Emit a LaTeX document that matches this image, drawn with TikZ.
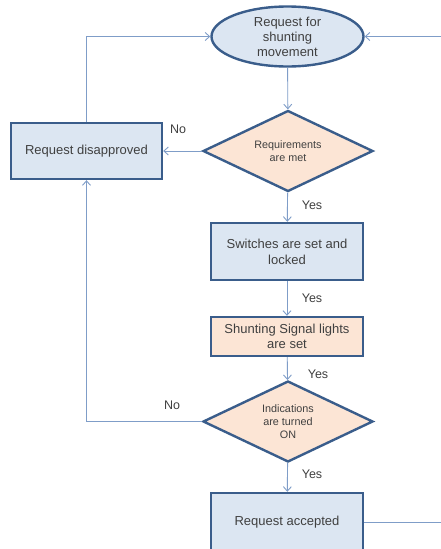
\documentclass[tikz,border=0pt]{standalone}
\usepackage{fontspec}
\setmainfont{Liberation Sans}
\usetikzlibrary{shapes.geometric,arrows.meta}
\definecolor{boxblue}{HTML}{DCE6F2}
\definecolor{boxorange}{HTML}{FCE5D5}
\definecolor{edgeblue}{HTML}{3A5D8B}
\definecolor{linkblue}{HTML}{7F9DC8}
\definecolor{txt}{HTML}{404040}
\tikzset{
  base/.style={draw=edgeblue, line width=2.4pt, text=txt, align=center, inner sep=0pt},
  bluebox/.style={base, rectangle, fill=boxblue, minimum width=152pt},
  orangebox/.style={base, rectangle, fill=boxorange, minimum width=152pt},
  startnode/.style={base, ellipse, fill=boxblue, minimum width=152pt, minimum height=60pt},
  decision/.style={base, diamond, fill=boxorange, minimum width=170pt, minimum height=81pt,
    shape aspect=2.1, font=\fontsize{10.8}{13}\selectfont},
  link/.style={draw=linkblue, line width=0.9pt, -{Straight Barb[length=4.5pt,width=8pt]}},
  answer/.style={text=txt, font=\fontsize{12.5}{14}\selectfont, inner sep=0pt}
}
\begin{document}
\begin{tikzpicture}[x=1pt, y=-1pt, font=\fontsize{13}{15}\selectfont]
  \useasboundingbox[fill=white] (0,0) rectangle (441,549);

  % process steps
  \node[startnode] (start) at (287.5,36.5) {Request for\\shunting\\movement};
  \node[decision] (req) at (288,151) {Requirements\\are met};
  \node[bluebox, minimum width=151pt, minimum height=56pt] (deny) at (86.5,151) {Request disapproved};
  \node[bluebox, minimum height=57pt, font=\fontsize{13}{16}\selectfont] (switch) at (287,251.5) {Switches are set and\\locked};
  \node[orangebox, minimum height=39pt, font=\fontsize{13}{15}\selectfont] (signal) at (287,336.5) {Shunting Signal lights\\are set};
  \node[decision, font=\fontsize{10.8}{13}\selectfont] (ind) at (288,421.5) {Indications\\are turned\\ON};
  \node[bluebox, minimum height=58pt] (accept) at (287,522) {Request accepted};

  % return path on the right edge
  \coordinate (edgeL) at (443,522);

  % connectors
  \draw[link] (start) -- (req);
  \draw[link] (req.west) -- (deny.east);
  \draw[link] (req) -- (switch);
  \draw[link] (switch) -- (signal);
  \draw[link] (signal) -- (ind);
  \draw[link] (ind) -- (accept);
  \draw[link] (ind.west) -| (deny.south);
  \draw[link] (deny.north) |- (start.west);
  \draw[link] (accept.east) -- (edgeL) |- (start.east);

  % branch labels
  \node[answer] (no1) at (178,129) {No};
  \node[answer] (yes1) at (312,205) {Yes};
  \node[answer] (yes2) at (312,298) {Yes};
  \node[answer] (yes3) at (318,374) {Yes};
  \node[answer] (no2) at (172,405) {No};
  \node[answer] (yes4) at (312,474) {Yes};
\end{tikzpicture}
\end{document}
